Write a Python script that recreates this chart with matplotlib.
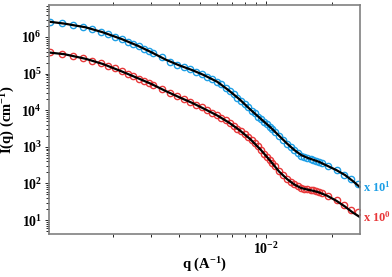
import numpy as np
import matplotlib
matplotlib.use('Agg')
import matplotlib.pyplot as plt
from matplotlib.ticker import LogLocator, NullFormatter, FuncFormatter

plt.rcParams['font.family'] = ['Liberation Serif', 'DejaVu Serif']
plt.rcParams['font.weight'] = 'bold'
plt.rcParams['mathtext.fontset'] = 'custom'
plt.rcParams['mathtext.rm'] = 'Liberation Serif:bold'
plt.rcParams['mathtext.bf'] = 'Liberation Serif:bold'
plt.rcParams['mathtext.default'] = 'bf'

# 측정 데이터 (q 단위: 1e-3 A^-1)
q_data = [1.03, 1.175, 1.32, 1.465, 1.61, 1.755, 1.90, 2.045, 2.19, 2.335,
          2.48, 2.625, 2.77, 2.915, 3.06, 3.35, 3.64, 3.93, 4.22, 4.51,
          4.80, 5.09, 5.38, 5.67, 5.96, 6.25, 6.54, 6.83, 7.12, 7.41,
          7.70, 8.0, 8.3, 8.6, 8.9, 9.2, 9.5, 9.8, 10.1, 10.4,
          10.7, 11.0, 11.5, 12.0, 12.5, 13.0, 13.5, 14.0, 14.5, 15.0,
          15.5, 16.0, 16.5, 17.0, 17.5, 18.0, 19.2, 21.1, 22.7, 24.4, 26.3]

I_blue = [2.62e6, 2.37e6, 2.13e6, 1.90e6, 1.65e6, 1.41e6, 1.21e6, 1.03e6, 8.82e5, 7.53e5,
          6.52e5, 5.61e5, 4.82e5, 4.14e5, 3.59e5, 2.79e5, 2.10e5, 1.77e5, 1.51e5, 1.31e5,
          1.12e5, 9.63e4, 8.33e4, 7.12e4, 6.08e4, 5.20e4, 4.17e4, 3.35e4, 2.69e4, 2.22e4,
          1.84e4, 1.48e4, 1.22e4, 9.81e3, 8.38e3, 6.73e3, 5.75e3, 4.91e3, 4.20e3, 3.59e3,
          3.06e3, 2.62e3, 2.00e3, 1.58e3, 1.23e3, 9.87e2, 8.18e2, 6.64e2, 5.79e2, 5.26e2,
          4.94e2, 4.70e2, 4.41e2, 4.14e2, 3.89e2, 3.61e2, 2.99e2, 2.32e2, 1.75e2, 1.32e2, 9.63e1]

I_red = [3.82e5, 3.50e5, 3.06e5, 2.67e5, 2.28e5, 1.95e5, 1.63e5, 1.38e5, 1.16e5, 9.87e4,
         8.44e4, 7.35e4, 6.48e4, 5.64e4, 4.88e4, 3.72e4, 2.95e4, 2.40e4, 1.99e4, 1.67e4,
         1.40e4, 1.19e4, 9.94e3, 8.49e3, 7.25e3, 6.32e3, 5.30e3, 4.47e3, 3.75e3, 3.16e3,
         2.70e3, 2.24e3, 1.85e3, 1.53e3, 1.27e3, 1.05e3, 8.18e2, 6.56e2, 5.43e2, 4.44e2,
         3.61e2, 2.99e2, 2.18e2, 1.70e2, 1.36e2, 1.13e2, 9.63e1, 8.33e1, 7.58e1, 7.26e1,
         7.03e1, 6.81e1, 6.48e1, 6.20e1, 5.82e1, 5.47e1, 4.61e1, 3.52e1, 2.57e1, 1.94e1, 1.65e1]

# 피팅 곡선
q_fit = [1.02, 1.2, 1.5, 1.8, 2.2, 2.6, 3.0, 3.5, 4.0, 4.6,
         5.2, 6.0, 6.8, 7.6, 8.5, 9.5, 10.5, 11.5, 12.5, 13.5,
         14.5, 15.5, 16.5, 17.5, 19.0, 21.0, 23.0, 25.0, 26.9]

fit_blue = [2.62e6, 2.32e6, 1.84e6, 1.34e6, 8.71e5, 5.75e5, 3.82e5, 2.38e5, 1.70e5, 1.25e5,
            9.16e4, 5.97e4, 3.41e4, 1.96e4, 1.04e4, 5.75e3, 3.41e3, 2.00e3, 1.23e3, 8.18e2,
            5.97e2, 5.00e2, 4.41e2, 3.89e2, 3.08e2, 2.32e2, 1.70e2, 1.16e2, 7.97e1]

fit_red = [3.77e5, 3.39e5, 2.54e5, 1.83e5, 1.14e5, 7.49e4, 5.20e4, 3.30e4, 2.29e4, 1.59e4,
           1.11e4, 7.17e3, 4.55e3, 2.82e3, 1.61e3, 8.18e2, 4.09e2, 2.11e2, 1.32e2, 9.33e1,
           7.49e1, 6.81e1, 6.28e1, 5.71e1, 4.67e1, 3.37e1, 2.34e1, 1.60e1, 1.21e1]

x_major = [1e-2]

blue = '#1E9FE6'
red = '#E8383A'

q = np.array(q_data) * 1e-3
qf = np.array(q_fit) * 1e-3

fig = plt.figure(figsize=(3.92, 2.77), dpi=100)
ax = fig.add_axes([0.125, 0.155, 0.793, 0.827])

ax.plot(q, I_blue, 'o', mfc='none', mec=blue, ms=4.5, mew=1.0)
ax.plot(q, I_red, 'o', mfc='none', mec=red, ms=4.5, mew=1.0)
ax.plot(qf, fit_blue, '-', color='black', lw=1.6)
ax.plot(qf, fit_red, '-', color='black', lw=1.6)

ax.set_xscale('log')
ax.set_yscale('log')
ax.set_xlim(1.02e-3, 2.69e-2)
ax.set_ylim(4.15, 7.49e6)

# 10^n 형태의 굵은 눈금 라벨
pow_fmt = FuncFormatter(lambda v, pos: r'$\mathbf{10^{%d}}$' % round(np.log10(v)))
ax.set_xticks(x_major)
ax.xaxis.set_major_formatter(pow_fmt)
ax.yaxis.set_major_formatter(pow_fmt)
ax.xaxis.set_minor_locator(LogLocator(base=10, subs=np.arange(2, 10), numticks=20))
ax.yaxis.set_minor_locator(LogLocator(base=10, subs=np.arange(2, 10), numticks=20))
ax.xaxis.set_minor_formatter(NullFormatter())
ax.yaxis.set_minor_formatter(NullFormatter())

for s in ax.spines.values():
    s.set_color('#808080')
    s.set_linewidth(1.2)

ax.tick_params(which='both', direction='out', color='black', width=0.6,
               top=True, right=False, labelsize=10, pad=2)
ax.tick_params(which='major', length=3)
ax.tick_params(which='minor', length=2)

ax.set_xlabel('q (A$^{-1}$)', fontsize=10.5, fontweight='bold', va='center')
ax.xaxis.set_label_coords(0.5, -0.135)
ax.set_ylabel('I(q) (cm$^{-1}$)', fontsize=10.5, fontweight='bold', labelpad=3)

ax.annotate('x 10$^{1}$', xy=(1.0, fit_blue[-1]), xycoords=('axes fraction', 'data'),
            xytext=(2, 0), textcoords='offset points', color=blue,
            fontsize=9, fontweight='bold', va='center', ha='left')
ax.annotate('x 10$^{0}$', xy=(1.0, fit_red[-1]), xycoords=('axes fraction', 'data'),
            xytext=(2, 0), textcoords='offset points', color=red,
            fontsize=9, fontweight='bold', va='center', ha='left')

fig.savefig('out.png', dpi=100)
